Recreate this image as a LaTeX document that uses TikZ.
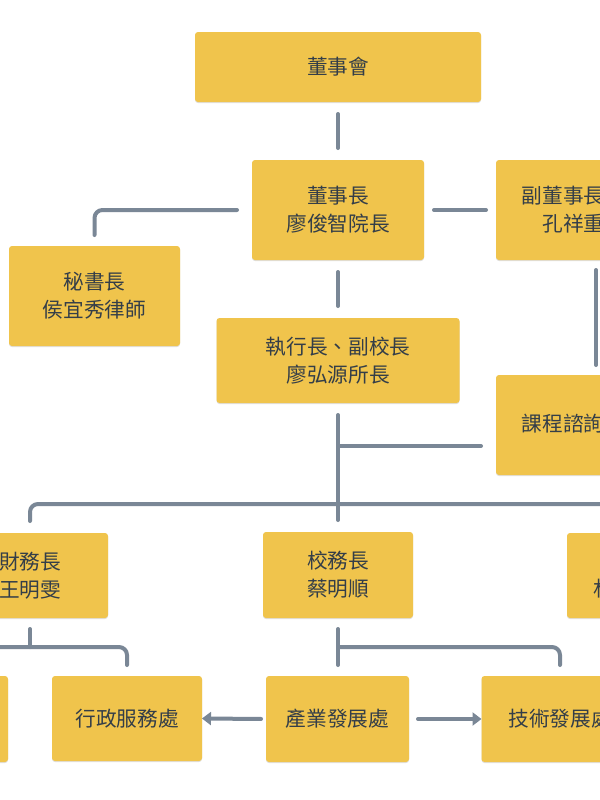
\documentclass[tikz,border=0pt]{standalone}
\usepackage{fontspec}
\setmainfont{Noto Sans CJK TC}
\usetikzlibrary{arrows.meta,shadows}
\definecolor{boxc}{RGB}{240,196,76}
\definecolor{linec}{RGB}{122,135,150}
\definecolor{txtc}{RGB}{52,62,72}
\begin{document}
\begin{tikzpicture}[x=0.75pt,y=-0.75pt,
  box/.style={fill=boxc, rounded corners=2.25pt, inner sep=0pt, outer sep=0pt,
    align=center, text=txtc, font=\fontsize{15.5}{21}\selectfont,
    drop shadow={shadow xshift=0pt, shadow yshift=-0.8pt, opacity=0.12, fill=black}},
  sz/.style 2 args={minimum width=#1*0.75pt, minimum height=#2*0.75pt},
  txt/.style={text=txtc, font=\fontsize{15.5}{21}\selectfont, inner sep=0pt,
    anchor=west, align=left},
  conn/.style={draw=linec, line width=3pt, line cap=round, line join=round,
    rounded corners=6pt},
  arr/.style={conn, -{Triangle[length=6.75pt,width=9.75pt]}}]
\useasboundingbox (0,0) rectangle (600,800);
\clip (0,0) rectangle (600,800);
\fill[white] (0,0) rectangle (600,800);

% boxes
\node[box, sz={286}{70}]  (dsh)   at (338,67)    {董事會};
\node[box, sz={172}{100}] (chair) at (338,210)   {董事長\\廖俊智院長};
\node[box, sz={200}{100}] (vice)  at (596,210)   {};
\node[txt] (vicet) at (521.7,210) {副董事長\\\hspace*{1em}孔祥重};
\node[box, sz={171}{100}] (sec)   at (94.5,296)  {秘書長\\侯宜秀律師};
\node[box, sz={243}{85}]  (ceo)   at (338,360.5) {執行長、副校長\\廖弘源所長};
\node[box, sz={200}{100}] (cur)   at (596,425)   {};
\node[txt] (curt) at (521.7,424) {課程諮詢};
\node[box, sz={156}{85}]  (cfo)   at (30,575.5)  {財務長\\王明雯};
\node[box, sz={150}{86}]  (coo)   at (338,575)   {校務長\\蔡明順};
\node[box, sz={156}{85}]  (rbox)  at (645,575.5) {};
\node[txt] (rboxt) at (593,589) {林};
\node[box, sz={156}{86}]  (bl)    at (-70,719)   {};
\node[box, sz={150}{85}]  (adm)   at (127,718.5) {行政服務處};
\node[box, sz={143}{86}]  (ind)   at (337.5,719) {產業發展處};
\node[box, sz={157}{86}]  (tech)  at (560,719)   {技術發展處};

% connectors
\draw[conn, shorten <=9pt, shorten >=9pt] (dsh) -- (chair);
\draw[conn, shorten <=11.25pt, shorten >=8.25pt] (chair.west) -| (sec.north);
\draw[conn, shorten <=7.5pt, shorten >=7.5pt] (chair) -- (vice);
\draw[conn, shorten <=9pt, shorten >=9pt] (chair) -- (ceo);
\draw[conn, shorten <=7.5pt, shorten >=7.5pt] (vice) -- (cur);
\draw[conn, shorten <=9pt, shorten >=9pt] (ceo) -- (coo);
\coordinate (j1) at (338,446);
\draw[conn, shorten >=11.25pt] (j1) -- (j1 -| cur.west);
\coordinate (j2) at (338,504);
\draw[conn, shorten >=9pt] (j2) -| (cfo.north);
\draw[conn, shorten >=9pt] (j2) -| (rbox.north);
\coordinate (j3) at (30,647);
\draw[conn, shorten <=8.25pt] (cfo.south) -- (j3);
\draw[conn, shorten >=8.25pt] (j3) -| (adm.north);
\draw[conn, shorten >=8.25pt] (j3) -| (bl.north);
\draw[conn, shorten <=8.25pt, shorten >=8.25pt] (coo.south) -- (coo.south |- ind.north);
\coordinate (j4) at (338,647);
\draw[conn, shorten >=8.25pt] (j4) -| (tech.north);
\draw[arr, shorten <=3.75pt] (ind.west) -- (adm.east);
\draw[arr, shorten <=6.75pt] (ind.east) -- (tech.west);
\end{tikzpicture}
\end{document}
